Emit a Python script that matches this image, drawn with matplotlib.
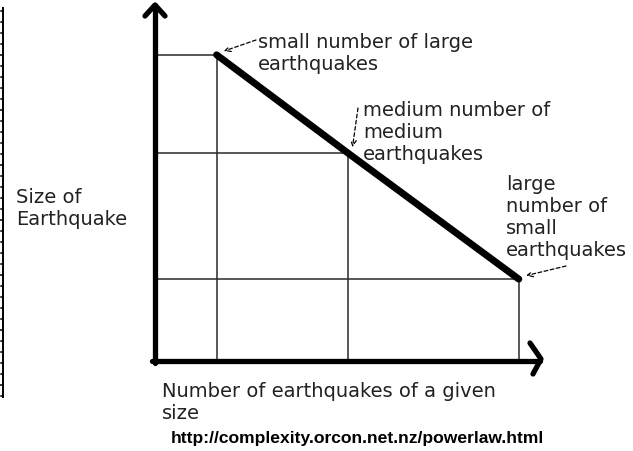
import numpy as np
import matplotlib
matplotlib.use("Agg")
import matplotlib.pyplot as plt
from matplotlib.lines import Line2D

W, H = 633, 451

# three example points: (number of earthquakes, size of earthquake)
number_of_quakes = [1.6, 5.0, 9.45]
quake_size = [8.6, 5.85, 2.3]
point_labels = ["small number of large\nearthquakes",
                "medium number of\nmedium\nearthquakes",
                "large\nnumber of\nsmall\nearthquakes"]
y_label = "Size of\nEarthquake"
x_label = "Number of earthquakes of a given\nsize"
source_url = "http://complexity.orcon.net.nz/powerlaw.html"


def px(x, y):
    # pixel position (from top-left) -> figure fraction
    return x / W, 1 - y / H


fig = plt.figure(figsize=(W / 100, H / 100), dpi=100)
fig.patch.set_facecolor("white")

# plot area between the y axis (x=155) and the x axis (y=361)
left, bottom = px(155, 361)
right, top = px(540, 5)
ax = fig.add_axes([left, bottom, right - left, top - bottom])
ax.set_xlim(0, 10)
ax.set_ylim(0, 10)
ax.axis("off")

grid_col = "#2a2a2a"
# guide lines from each point back to the axes
for xv, yv in zip(number_of_quakes, quake_size):
    ax.plot([0, xv], [yv, yv], color=grid_col, lw=1.1, solid_capstyle="butt")
    ax.plot([xv, xv], [0, yv], color=grid_col, lw=1.1, solid_capstyle="butt")

# the power-law line
ax.plot(number_of_quakes, quake_size, color="black", lw=5.0,
        solid_capstyle="round", zorder=5)

# thick hand-drawn axes with chevron heads
axis_lw = 3.8
for xs, ys in [([155, 155], [5, 363]), ([152, 540], [361, 361]),
               ([145, 155, 165], [16, 5, 16]),
               ([530, 541, 533], [343, 359, 374])]:
    fx, fy = zip(*[px(a, b) for a, b in zip(xs, ys)])
    fig.add_artist(Line2D(fx, fy, color="black", lw=axis_lw,
                          solid_capstyle="round", solid_joinstyle="round"))

# ruler strip along the left edge
fx, fy = zip(px(3, 8), px(3, 397))
fig.add_artist(Line2D(fx, fy, color="black", lw=1.4))
for i, yy in enumerate(np.arange(11, 397, 11)):
    ln = 4 if i % 5 == 4 else 2.5
    fx, fy = zip(px(3 - ln, yy), px(3, yy))
    fig.add_artist(Line2D(fx, fy, color="black", lw=1.1))

txt_col = "#222222"
fs = 14
ls = 1.2
label_pos = [(258, 33), (363, 101), (506, 175)]
arrow_from = [(256, 40), (358, 108), (566, 266)]
for lab, (tx, ty) in zip(point_labels, label_pos):
    fig.text(*px(tx, ty), lab, fontsize=fs, color=txt_col, ha="left",
             va="top", linespacing=ls)

for (sx, sy), xv, yv in zip(arrow_from, number_of_quakes, quake_size):
    ax.annotate("", xy=(xv + 0.12, yv + 0.08), xycoords="data",
                xytext=px(sx, sy), textcoords="figure fraction",
                arrowprops=dict(arrowstyle="->", color="black", lw=0.9,
                                linestyle=(0, (3, 2)), shrinkA=0, shrinkB=2))

fig.text(*px(16, 188), y_label, fontsize=fs, color=txt_col, ha="left",
         va="top", linespacing=ls)
fig.text(*px(162, 382), x_label, fontsize=fs, color=txt_col, ha="left",
         va="top", linespacing=ls)
fig.text(*px(357, 439), source_url, fontsize=12.6, fontweight="bold",
         family="Liberation Sans", color="black", ha="center", va="center")

fig.savefig("out.png", dpi=100, facecolor="white")
